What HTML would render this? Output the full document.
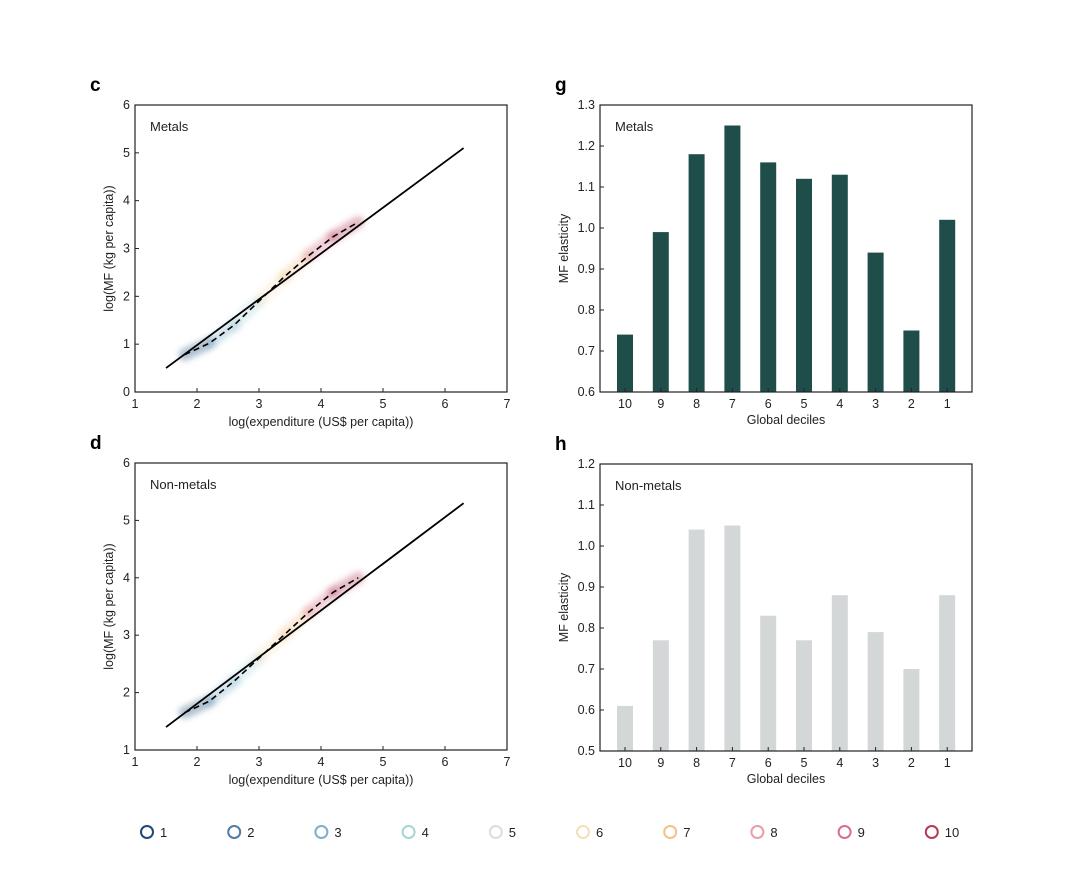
<!DOCTYPE html>
<html><head><meta charset="utf-8"><style>
body{margin:0;background:#fff;}
svg{display:block;font-family:"Liberation Sans",Arial,sans-serif;}
</style></head><body>
<svg id="fig" width="1080" height="883" xmlns="http://www.w3.org/2000/svg">
<defs><filter id="blur" x="-20%" y="-20%" width="140%" height="140%"><feGaussianBlur stdDeviation="3"/></filter></defs>
</svg>
<script>
const metalsElasticity=[0.74,0.99,1.18,1.25,1.16,1.12,1.13,0.94,0.75,1.02];
const nonmetalsElasticity=[0.61,0.77,1.04,1.05,0.83,0.77,0.88,0.79,0.70,0.88];
const decileLabels=["10","9","8","7","6","5","4","3","2","1"];
const metalsFitX=[1.5,6.3];const metalsFitY=[0.5,5.1];
const metalsDashX=[1.8,2.2,2.6,3.0,3.4,3.8,4.2,4.6];
const metalsDashY=[0.78,1.02,1.4,1.9,2.4,2.85,3.25,3.55];
const nonFitX=[1.5,6.3];const nonFitY=[1.4,5.3];
const nonDashX=[1.8,2.2,2.6,3.0,3.4,3.8,4.2,4.6];
const nonDashY=[1.65,1.85,2.2,2.6,3.0,3.4,3.75,4.0];
const legendLabels=["1","2","3","4","5","6","7","8","9","10"];
const legendColors=["#1d4a74","#4d7ea6","#7daecb","#a9d3da","#dcdedc","#f5dfb6","#f4c08c","#eaa0a2","#d6708d","#b53a55"];
const svg=document.getElementById('fig');const NS="http://www.w3.org/2000/svg";
function el(t,a,p){const e=document.createElementNS(NS,t);for(const k in a)e.setAttribute(k,a[k]);(p||svg).appendChild(e);return e;}
function txt(x,y,s,size,anchor,p,extra){const e=el('text',Object.assign({x:x,y:y,'font-size':size,'text-anchor':anchor||'middle',fill:'#222'},extra||{}),p);e.textContent=s;return e;}
function scatterPanel(name,letter,top,ymin,ymax,fx,fy,dx,dy,label){
 const L=135,R=507,T=top,B=top+287;
 const g=el('g',{});
 const sx=v=>L+(v-1)/6*(R-L), sy=v=>B-(v-ymin)/(ymax-ymin)*(B-T);
 const t=txt(L-45,T-14,letter,19,'start',g,{'font-weight':'bold',fill:'#000'});
 const cg=el('g',{filter:'url(#blur)'},g);
 
 for(let i=0;i<dx.length-1;i++){const c=legendColors[Math.min(9,Math.round(i*9/(dx.length-2)))];
  el('line',{x1:sx(dx[i]),y1:sy(dy[i]),x2:sx(dx[i+1]),y2:sy(dy[i+1]),stroke:c,'stroke-width':12,'stroke-opacity':0.35,'stroke-linecap':'round'},cg);}
 const fl=el('line',{x1:sx(fx[0]),y1:sy(fy[0]),x2:sx(fx[1]),y2:sy(fy[1]),stroke:'#000','stroke-width':1.8},g);
 
 const dp=el('polyline',{points:dx.map((v,i)=>sx(v)+','+sy(dy[i])).join(' '),fill:'none',stroke:'#000','stroke-width':1.6,'stroke-dasharray':'6,4'},g);
 
 const fr=el('rect',{x:L,y:T,width:R-L,height:B-T,fill:'none',stroke:'#222','stroke-width':1.2},g);
 
 for(let v=1;v<=7;v++){el('line',{x1:sx(v),y1:B,x2:sx(v),y2:B-4,stroke:'#222'},g);txt(sx(v),B+16,String(v),12.5,'middle',g);}
 for(let v=ymin;v<=ymax;v++){el('line',{x1:L,y1:sy(v),x2:L+4,y2:sy(v),stroke:'#222'},g);txt(L-5,sy(v)+4,String(v),12.5,'end',g);}
 const xt=txt((L+R)/2,B+34,'log(expenditure (US$ per capita))',12.5,'middle',g);
 const yt=txt(0,0,'log(MF (kg per capita))',12.5,'middle',g,{transform:`translate(${L-22},${(T+B)/2}) rotate(-90)`});
 const lb=txt(L+15,T+26,label,13,'start',g);
}
function barPanel(name,letter,top,ymin,ymax,step,vals,color,label){
 const L=600,R=972,T=top,B=top+287;
 const g=el('g',{});
 const sy=v=>B-(v-ymin)/(ymax-ymin)*(B-T), cx=i=>L+25+i*35.8;
 const t=txt(L-45,T-14,letter,19,'start',g,{'font-weight':'bold',fill:'#000'});
 vals.forEach((v,i)=>{const r=el('rect',{x:cx(i)-8,y:sy(v),width:16,height:B-sy(v),fill:color},g);
  
  el('line',{x1:cx(i),y1:B,x2:cx(i),y2:B-4,stroke:'#222'},g);txt(cx(i),B+16,decileLabels[i],12.5,'middle',g);});
 const fr=el('rect',{x:L,y:T,width:R-L,height:B-T,fill:'none',stroke:'#222','stroke-width':1.2},g);
 
 const n=Math.round((ymax-ymin)/step);
 for(let k=0;k<=n;k++){const v=ymin+k*step;el('line',{x1:L,y1:sy(v),x2:L+4,y2:sy(v),stroke:'#222'},g);txt(L-5,sy(v)+4,v.toFixed(1),12.5,'end',g);}
 const xt=txt((L+R)/2,B+32,'Global deciles',12.5,'middle',g);
 const yt=txt(0,0,'MF elasticity',12.5,'middle',g,{transform:`translate(${L-32},${(T+B)/2}) rotate(-90)`});
 const lb=txt(L+15,T+26,label,13,'start',g);
}
scatterPanel('panel-c-metals','c',105,0,6,metalsFitX,metalsFitY,metalsDashX,metalsDashY,'Metals');
scatterPanel('panel-d-nonmetals','d',463,1,6,nonFitX,nonFitY,nonDashX,nonDashY,'Non-metals');
barPanel('panel-g-metals','g',105,0.6,1.3,0.1,metalsElasticity,'#1f4d49','Metals');
barPanel('panel-h-nonmetals','h',464,0.5,1.2,0.1,nonmetalsElasticity,'#d4d7d7','Non-metals');
const lg=el('g',{});
legendLabels.forEach((s,i)=>{const x=147+i*87.2;
 const c=el('circle',{cx:x,cy:832,r:6,fill:'none',stroke:legendColors[i],'stroke-width':2},lg);
 
 const t=txt(x+13,837,s,13,'start',lg);});
</script>
</body></html>
